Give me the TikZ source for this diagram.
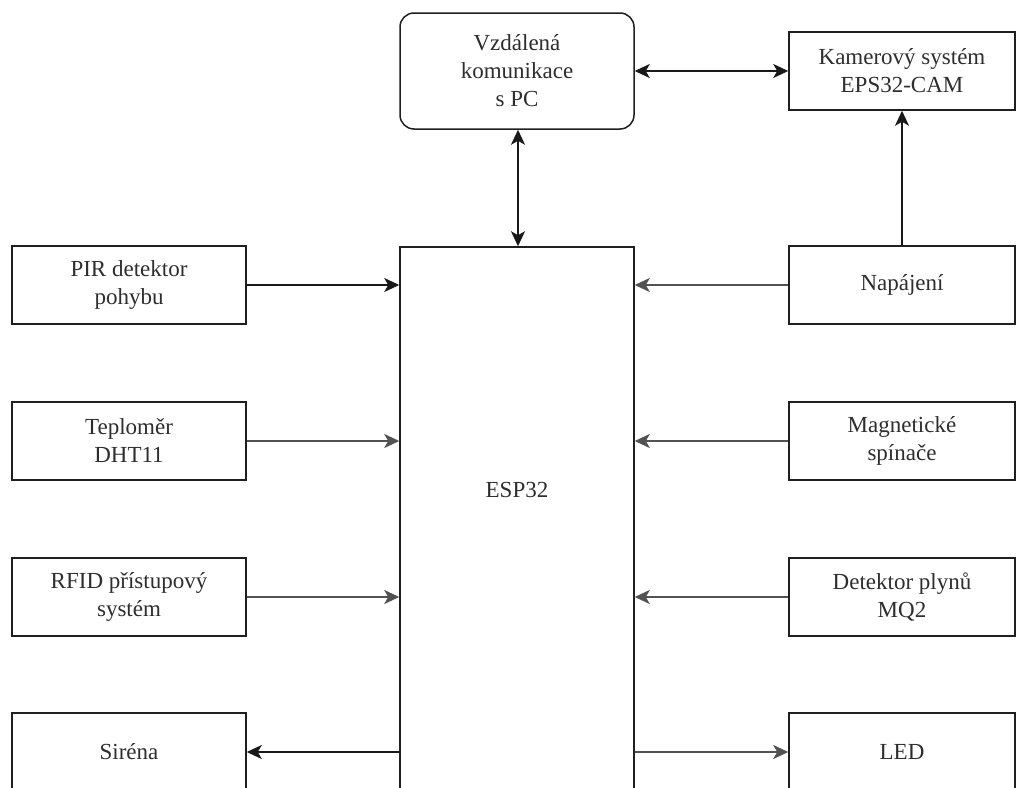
\documentclass[tikz,border=0pt]{standalone}
\usepackage{fontspec}
\setmainfont{Liberation Serif}
\usetikzlibrary{arrows.meta}
\begin{document}
\begin{tikzpicture}[x=1pt,y=-1pt,
  box/.style={draw=black!88,line width=1.5pt,fill=white,minimum width=234pt,minimum height=78pt,inner sep=0pt,align=center,font=\fontsize{23}{28}\selectfont,text=black!82},
  rbox/.style={box,minimum width=226pt},
  lbl/.style={inner sep=0pt,font=\fontsize{23}{28}\selectfont,text=black!82},
  dark/.style={draw=black!90,line width=1.8pt},
  grey/.style={draw=black!68,line width=2.3pt},
  tip/.style={-{Stealth[length=15pt,width=14pt,inset=4pt]}},
  tips/.style={{Stealth[length=15pt,width=14pt,inset=4pt]}-{Stealth[length=15pt,width=14pt,inset=4pt]}}
]
\useasboundingbox (0,0) rectangle (1016,787);
\clip (0,0) rectangle (1016,787);
\fill[white] (0,0) rectangle (1016,787);

\node[box,rounded corners=14pt,minimum height=116pt] (pc) at (517,71) {Vzdálená\\komunikace\\s PC};
\node[rbox] (cam) at (902,71) {Kamerový systém\\EPS32-CAM};
\node[box,minimum height=600pt] (esp) at (517,547) {};
\node[lbl] (esplbl) at (517,490) {ESP32};

\node[box] (pir) at (129,285) {PIR detektor\\pohybu};
\node[box] (tep) at (129,441) {Teploměr\\DHT11};
\node[box] (rfid) at (129,597) {RFID přístupový\\systém};
\node[box] (sir) at (129,752) {Siréna};

\node[rbox] (nap) at (902,285) {Napájení};
\node[rbox] (mag) at (902,441) {Magnetické\\spínače};
\node[rbox] (det) at (902,597) {Detektor plynů\\MQ2};
\node[rbox] (led) at (902,752) {LED};

\draw[dark,tips] (pc.south -| 518,0) -- (esp.north -| 518,0);
\draw[dark,tips] (pc.east) -- (cam.west);
\draw[dark,tip] (nap.north) -- (cam.south);

\draw[dark,tip] (pir.east) -- (pir.east -| esp.west);
\draw[grey,tip] (tep.east) -- (tep.east -| esp.west);
\draw[grey,tip] (rfid.east) -- (rfid.east -| esp.west);
\draw[dark,tip] (sir.east -| esp.west) -- (sir.east);

\draw[grey,tip] (nap.west) -- (nap.west -| esp.east);
\draw[grey,tip] (mag.west) -- (mag.west -| esp.east);
\draw[grey,tip] (det.west) -- (det.west -| esp.east);
\draw[grey,tip] (led.west -| esp.east) -- (led.west);
\end{tikzpicture}
\end{document}
